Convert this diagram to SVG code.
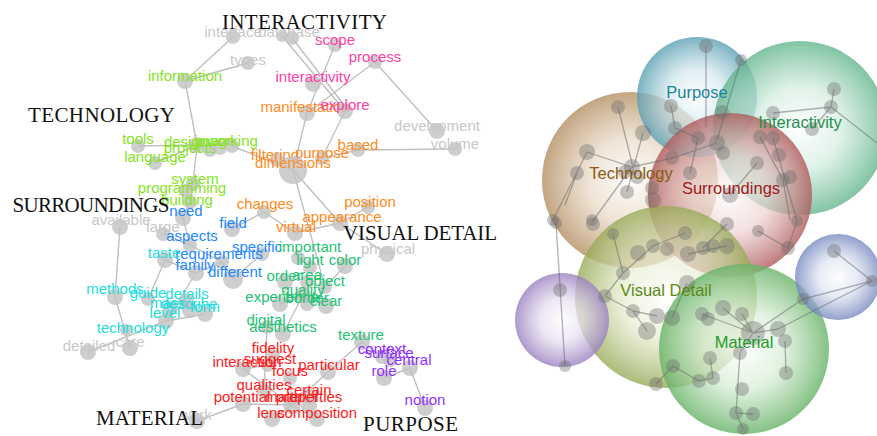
<svg xmlns="http://www.w3.org/2000/svg" width="877" height="436" viewBox="0 0 877 436">
<defs>
<style>
.edge{stroke:#c0c0c0;stroke-width:1.4;fill:none}
.nd{fill:#c2c2c2;fill-opacity:.8}
.w{font-family:"Liberation Sans",Arial,sans-serif;font-size:15px;text-anchor:middle}
.cat{font-family:"Liberation Serif","Times New Roman",serif;font-size:21px;fill:#111;text-anchor:middle}
.gray{fill:#c8c8c8}
.lime{fill:#84e41c}
.pink{fill:#ff40a8}
.orange{fill:#ff8c1a}
.blue{fill:#2288ff}
.cyan{fill:#22dddd}
.sea{fill:#22c474}
.red{fill:#ff1a1a}
.violet{fill:#9030ff}
.ilink{stroke:#666;stroke-opacity:.5;stroke-width:1.3;fill:none}
.inode{fill:#6a6a6a;fill-opacity:.38}
.bl{font-family:"Liberation Sans",Arial,sans-serif;font-size:16.5px;text-anchor:middle}
</style>
<radialGradient id="gTech"><stop offset="0" stop-color="#fff" stop-opacity=".85"/><stop offset=".45" stop-color="#eadcc8" stop-opacity=".7"/><stop offset="1" stop-color="#b48e62" stop-opacity=".8"/></radialGradient>
<radialGradient id="gPurp"><stop offset="0" stop-color="#fff" stop-opacity=".85"/><stop offset=".45" stop-color="#d4e9ee" stop-opacity=".7"/><stop offset="1" stop-color="#5a9fb2" stop-opacity=".8"/></radialGradient>
<radialGradient id="gInt"><stop offset="0" stop-color="#fff" stop-opacity=".85"/><stop offset=".45" stop-color="#d6eee2" stop-opacity=".7"/><stop offset="1" stop-color="#62b58c" stop-opacity=".8"/></radialGradient>
<radialGradient id="gSur"><stop offset="0" stop-color="#fff" stop-opacity=".8"/><stop offset=".45" stop-color="#eed2d2" stop-opacity=".65"/><stop offset="1" stop-color="#ad5a5a" stop-opacity=".8"/></radialGradient>
<radialGradient id="gVis"><stop offset="0" stop-color="#fff" stop-opacity=".85"/><stop offset=".45" stop-color="#e8eed2" stop-opacity=".7"/><stop offset="1" stop-color="#98aa58" stop-opacity=".8"/></radialGradient>
<radialGradient id="gMat"><stop offset="0" stop-color="#fff" stop-opacity=".85"/><stop offset=".45" stop-color="#d8eed6" stop-opacity=".7"/><stop offset="1" stop-color="#66b266" stop-opacity=".8"/></radialGradient>
<radialGradient id="gLil"><stop offset="0" stop-color="#fff" stop-opacity=".85"/><stop offset=".45" stop-color="#e6ddf0" stop-opacity=".7"/><stop offset="1" stop-color="#9880c0" stop-opacity=".8"/></radialGradient>
<radialGradient id="gBlu"><stop offset="0" stop-color="#fff" stop-opacity=".85"/><stop offset=".45" stop-color="#dde3f0" stop-opacity=".7"/><stop offset="1" stop-color="#7688c0" stop-opacity=".8"/></radialGradient>
</defs>
<rect width="877" height="436" fill="#fff"/>

<!-- word network: links -->
<g id="connectors">
<path class="edge" d="M233,37L185,81L248,63M185,81L197,145M282,36L345,111M292,38L348,110M335,45L307,113M375,62L307,113M375,62L437,131M307,113L293,170M345,111L322,158M358,150L455,149M322,158L358,150M232,146L293,170M138,146L197,145M155,163L197,145M197,145L193,184L186,191L190,202L183,218L190,245L163,234M190,245L222,262L233,279M222,262L196,273L165,260M232,229L264,212L295,233L340,223L368,207M340,223L293,170M340,223L387,254M293,170L325,287M120,227L115,297L130,348M165,260L148,299M196,273L166,321M88,352L166,321L187,300M166,321L205,314M262,254L233,279M298,258L310,267M345,266L325,287M303,295L280,304M303,295L326,306M303,295L283,334M267,327L264,391M362,342L328,372L292,405M362,342L382,357M384,378L410,368L425,408M243,369L268,365M243,369L292,405M243,404L292,405M243,404L197,421M272,419L292,405M317,419L292,405M290,378L292,405M309,396L292,405"/>
</g>

<!-- word network: nodes with labels -->
<g id="n-interface"><circle class="nd" cx="233" cy="37" r="7"/><text class="w gray" x="233" y="37">interface</text></g>
<g id="n-database"><circle class="nd" cx="282" cy="36" r="6"/><circle class="nd" cx="292" cy="38" r="7"/><text class="w gray" x="289" y="37">database</text></g>
<g id="n-types"><circle class="nd" cx="248" cy="63" r="7"/><text class="w gray" x="248" y="65">types</text></g>
<g id="n-scope"><circle class="nd" cx="335" cy="45" r="7"/><text class="w pink" x="335" y="45">scope</text></g>
<g id="n-process"><circle class="nd" cx="375" cy="62" r="7"/><text class="w pink" x="375" y="62">process</text></g>
<g id="n-information"><circle class="nd" cx="185" cy="81" r="8"/><text class="w lime" x="185" y="81">information</text></g>
<g id="n-interactivity"><circle class="nd" cx="313" cy="84" r="8"/><text class="w pink" x="313" y="82">interactivity</text></g>
<g id="n-manifestation"><circle class="nd" cx="307" cy="113" r="8"/><text class="w orange" x="305" y="112">manifestation</text></g>
<g id="n-explore"><circle class="nd" cx="345" cy="111" r="8"/><text class="w pink" x="345" y="110">explore</text></g>
<g id="n-development"><circle class="nd" cx="437" cy="131" r="8"/><text class="w gray" x="437" y="131">development</text></g>
<g id="n-volume"><circle class="nd" cx="455" cy="149" r="7"/><text class="w gray" x="455" y="149">volume</text></g>
<g id="n-based"><circle class="nd" cx="358" cy="150" r="7"/><text class="w orange" x="358" y="150">based</text></g>
<g id="n-tools"><circle class="nd" cx="138" cy="146" r="7"/><text class="w lime" x="138" y="144">tools</text></g>
<g id="n-language"><circle class="nd" cx="155" cy="163" r="7"/><text class="w lime" x="155" y="162">language</text></g>
<g id="n-design"><circle class="nd" cx="197" cy="145" r="8"/><text class="w lime" x="186" y="147">design</text></g>
<g id="n-projects"><circle class="nd" cx="210" cy="150" r="7"/><text class="w lime" x="190" y="153">projects</text></g>
<g id="n-image"><circle class="nd" cx="220" cy="148" r="7"/><text class="w lime" x="215" y="146">image</text></g>
<g id="n-working"><circle class="nd" cx="232" cy="146" r="7"/><text class="w lime" x="232" y="146">working</text></g>
<g id="n-filtering"><circle class="nd" cx="277" cy="160" r="7"/><text class="w orange" x="275" y="160">filtering</text></g>
<g id="n-purpose"><circle class="nd" cx="322" cy="158" r="7"/><text class="w orange" x="322" y="158">purpose</text></g>
<g id="n-dimensions"><circle class="nd" cx="293" cy="170" r="14"/><text class="w orange" x="293" y="168">dimensions</text></g>
<g id="n-system"><circle class="nd" cx="193" cy="184" r="7"/><text class="w lime" x="195" y="184">system</text></g>
<g id="n-programming"><circle class="nd" cx="186" cy="191" r="7"/><text class="w lime" x="182" y="193">programming</text></g>
<g id="n-building"><circle class="nd" cx="190" cy="202" r="7"/><text class="w lime" x="187" y="205">building</text></g>
<g id="n-need"><circle class="nd" cx="183" cy="218" r="8"/><text class="w blue" x="186" y="216">need</text></g>
<g id="n-changes"><circle class="nd" cx="264" cy="212" r="7"/><text class="w orange" x="265" y="209">changes</text></g>
<g id="n-position"><circle class="nd" cx="368" cy="207" r="7"/><text class="w orange" x="370" y="207">position</text></g>
<g id="n-appearance"><circle class="nd" cx="340" cy="223" r="8"/><text class="w orange" x="342" y="222">appearance</text></g>
<g id="n-virtual"><circle class="nd" cx="295" cy="233" r="8"/><text class="w orange" x="296" y="232">virtual</text></g>
<g id="n-physical"><circle class="nd" cx="387" cy="254" r="8"/><text class="w gray" x="388" y="254">physical</text></g>
<g id="n-available"><circle class="nd" cx="120" cy="227" r="8"/><text class="w gray" x="121" y="225">available</text></g>
<g id="n-large"><circle class="nd" cx="163" cy="234" r="7"/><text class="w gray" x="163" y="232">large</text></g>
<g id="n-field"><circle class="nd" cx="232" cy="229" r="8"/><text class="w blue" x="233" y="228">field</text></g>
<g id="n-aspects"><circle class="nd" cx="190" cy="245" r="7"/><text class="w blue" x="192" y="241">aspects</text></g>
<g id="n-specific"><circle class="nd" cx="262" cy="254" r="7"/><text class="w blue" x="257" y="252">specific</text></g>
<g id="n-requirements"><circle class="nd" cx="222" cy="262" r="7"/><text class="w blue" x="219" y="259">requirements</text></g>
<g id="n-taste"><circle class="nd" cx="165" cy="260" r="8"/><text class="w cyan" x="164" y="258">taste</text></g>
<g id="n-family"><circle class="nd" cx="196" cy="273" r="8"/><text class="w blue" x="195" y="270">family</text></g>
<g id="n-different"><circle class="nd" cx="233" cy="279" r="10"/><text class="w blue" x="235" y="277">different</text></g>
<g id="n-important"><circle class="nd" cx="298" cy="258" r="7"/><text class="w sea" x="310" y="252">important</text></g>
<g id="n-light"><circle class="nd" cx="310" cy="267" r="7"/><text class="w sea" x="310" y="265">light</text></g>
<g id="n-color"><circle class="nd" cx="345" cy="266" r="8"/><text class="w sea" x="345" y="265">color</text></g>
<g id="n-order"><circle class="nd" cx="285" cy="282" r="8"/><text class="w sea" x="284" y="281">order</text></g>
<g id="n-area"><circle class="nd" cx="307" cy="282" r="7"/><text class="w sea" x="307" y="280">area</text></g>
<g id="n-object"><circle class="nd" cx="325" cy="287" r="7"/><text class="w sea" x="325" y="286">object</text></g>
<g id="n-quality"><circle class="nd" cx="303" cy="295" r="8"/><text class="w sea" x="303" y="295">quality</text></g>
<g id="n-experience"><circle class="nd" cx="280" cy="304" r="8"/><text class="w sea" x="282" y="302">experience</text></g>
<g id="n-border"><circle class="nd" cx="307" cy="304" r="7"/><text class="w sea" x="307" y="303">border</text></g>
<g id="n-clear"><circle class="nd" cx="326" cy="306" r="8"/><text class="w sea" x="326" y="306">clear</text></g>
<g id="n-digital"><circle class="nd" cx="267" cy="327" r="7"/><text class="w sea" x="266" y="325">digital</text></g>
<g id="n-aesthetics"><circle class="nd" cx="283" cy="334" r="8"/><text class="w sea" x="283" y="332">aesthetics</text></g>
<g id="n-texture"><circle class="nd" cx="362" cy="342" r="8"/><text class="w sea" x="361" y="340">texture</text></g>
<g id="n-context"><circle class="nd" cx="382" cy="357" r="7"/><text class="w violet" x="382" y="354">context</text></g>
<g id="n-surface"><circle class="nd" cx="390" cy="360" r="7"/><text class="w violet" x="389" y="358">surface</text></g>
<g id="n-central"><circle class="nd" cx="410" cy="368" r="8"/><text class="w violet" x="409" y="365">central</text></g>
<g id="n-role"><circle class="nd" cx="384" cy="378" r="8"/><text class="w violet" x="384" y="376">role</text></g>
<g id="n-notion"><circle class="nd" cx="425" cy="408" r="8"/><text class="w violet" x="425" y="405">notion</text></g>
<g id="n-fidelity"><circle class="nd" cx="273" cy="354" r="7"/><text class="w red" x="273" y="353">fidelity</text></g>
<g id="n-suggest"><circle class="nd" cx="268" cy="365" r="7"/><text class="w red" x="270" y="364">suggest</text></g>
<g id="n-interaction"><circle class="nd" cx="243" cy="369" r="8"/><text class="w red" x="247" y="367">interaction</text></g>
<g id="n-particular"><circle class="nd" cx="328" cy="372" r="8"/><text class="w red" x="329" y="370">particular</text></g>
<g id="n-focus"><circle class="nd" cx="290" cy="378" r="7"/><text class="w red" x="290" y="376">focus</text></g>
<g id="n-qualities"><circle class="nd" cx="264" cy="391" r="7"/><text class="w red" x="264" y="390">qualities</text></g>
<g id="n-certain"><circle class="nd" cx="309" cy="396" r="8"/><text class="w red" x="309" y="395">certain</text></g>
<g id="n-potential"><circle class="nd" cx="243" cy="404" r="8"/><text class="w red" x="242" y="402">potential</text></g>
<g id="n-material"><circle class="nd" cx="292" cy="405" r="9"/><text class="w red" x="292" y="402">material</text></g>
<g id="n-properties"><circle class="nd" cx="309" cy="406" r="8"/><text class="w red" x="309" y="402">properties</text></g>
<g id="n-lens"><circle class="nd" cx="272" cy="419" r="8"/><text class="w red" x="271" y="418">lens</text></g>
<g id="n-composition"><circle class="nd" cx="317" cy="419" r="8"/><text class="w red" x="317" y="418">composition</text></g>
<g id="n-methods"><circle class="nd" cx="115" cy="297" r="8"/><text class="w cyan" x="115" y="294">methods</text></g>
<g id="n-guide"><circle class="nd" cx="148" cy="299" r="7"/><text class="w cyan" x="148" y="298">guide</text></g>
<g id="n-details"><circle class="nd" cx="187" cy="300" r="7"/><text class="w cyan" x="187" y="299">details</text></g>
<g id="n-mass"><circle class="nd" cx="170" cy="309" r="7"/><text class="w cyan" x="168" y="308">mass</text></g>
<g id="n-describe"><circle class="nd" cx="190" cy="310" r="8"/><text class="w cyan" x="189" y="309">describe</text></g>
<g id="n-form"><circle class="nd" cx="205" cy="314" r="8"/><text class="w cyan" x="205" y="312">form</text></g>
<g id="n-level"><circle class="nd" cx="166" cy="321" r="8"/><text class="w cyan" x="165" y="318">level</text></g>
<g id="n-technology"><circle class="nd" cx="126" cy="330" r="6"/><text class="w cyan" x="133" y="333">technology</text></g>
<g id="n-care"><circle class="nd" cx="130" cy="348" r="8"/><text class="w gray" x="130" y="347">care</text></g>
<g id="n-detailed"><circle class="nd" cx="88" cy="352" r="8"/><text class="w gray" x="89" y="351">detailed</text></g>
<g id="n-work"><circle class="nd" cx="197" cy="421" r="8"/><text class="w gray" x="196" y="420">work</text></g>

<!-- theme headings -->
<g id="headings">
<text class="cat" x="304.5" y="29" textLength="165">INTERACTIVITY</text>
<text class="cat" x="101.5" y="122" textLength="147">TECHNOLOGY</text>
<text class="cat" x="91" y="212" textLength="157">SURROUNDINGS</text>
<text class="cat" x="420" y="240" textLength="154">VISUAL DETAIL</text>
<text class="cat" x="149.5" y="425" textLength="107">MATERIAL</text>
<text class="cat" x="410.5" y="431" textLength="95">PURPOSE</text>
</g>

<!-- theme bubbles -->
<g id="b-technology"><circle cx="630" cy="180" r="88" fill="url(#gTech)"/></g>
<g id="b-purpose"><circle cx="697" cy="97" r="60" fill="url(#gPurp)"/></g>
<g id="b-interactivity"><circle cx="800" cy="128" r="87" fill="url(#gInt)"/></g>
<g id="b-surroundings"><circle cx="730" cy="195" r="82" fill="url(#gSur)"/></g>
<g id="b-visual-detail"><circle cx="666" cy="297" r="91" fill="url(#gVis)"/></g>
<g id="b-material"><circle cx="744" cy="349" r="85" fill="url(#gMat)"/></g>
<g id="b-lilac"><circle cx="562" cy="320" r="47" fill="url(#gLil)"/></g>
<g id="b-blue"><circle cx="838" cy="277" r="43" fill="url(#gBlu)"/></g>

<!-- links inside the bubbles -->
<g id="bubble-links">
<path class="ilink" d="M706,46L706,127M741,60L717,140M834,89L831,107L877,143M831,107L812,129M831,107L773,113M618,107L633,167M671,106L675,128L698,138M643,133L627,192M587,152L632,167L672,158L717,143M587,152L553,220M577,173L565,205M632,167L592,222M760,137L783,180L790,220M773,138L797,221M757,163L730,195M698,138L690,173M556,223L565,366M613,234L623,273L605,296M623,273L653,246L685,233M688,254L727,246M727,224L703,248M758,231L788,248L797,221M633,311L647,331M657,316L633,311M687,283L672,318M753,333L723,308M753,333L702,314M753,333L742,314M753,333L778,329M753,333L740,353L736,413L753,414M736,413L743,429M753,333L803,299L872,281L834,251M872,281L778,329M785,341L786,373M713,378L699,381L673,366L656,384M710,358L713,378M605,296L633,311"/>
</g>
<g id="bubble-nodes">
<circle class="inode" cx="706" cy="46" r="7"/><circle class="inode" cx="741" cy="60" r="6"/><circle class="inode" cx="834" cy="89" r="7"/><circle class="inode" cx="831" cy="107" r="7"/><circle class="inode" cx="773" cy="113" r="7"/><circle class="inode" cx="812" cy="129" r="7"/><circle class="inode" cx="722" cy="112" r="7"/><circle class="inode" cx="671" cy="106" r="7"/><circle class="inode" cx="675" cy="128" r="7"/><circle class="inode" cx="618" cy="107" r="7"/><circle class="inode" cx="643" cy="133" r="8"/><circle class="inode" cx="587" cy="152" r="8"/><circle class="inode" cx="577" cy="173" r="7"/><circle class="inode" cx="632" cy="167" r="8"/><circle class="inode" cx="625" cy="172" r="7"/><circle class="inode" cx="637" cy="177" r="7"/><circle class="inode" cx="627" cy="192" r="7"/><circle class="inode" cx="652" cy="188" r="7"/><circle class="inode" cx="672" cy="158" r="7"/><circle class="inode" cx="690" cy="173" r="7"/><circle class="inode" cx="698" cy="138" r="7"/><circle class="inode" cx="717" cy="143" r="8"/><circle class="inode" cx="723" cy="153" r="7"/><circle class="inode" cx="760" cy="137" r="7"/><circle class="inode" cx="773" cy="138" r="7"/><circle class="inode" cx="779" cy="155" r="7"/><circle class="inode" cx="757" cy="163" r="7"/><circle class="inode" cx="783" cy="180" r="7"/><circle class="inode" cx="790" cy="177" r="7"/><circle class="inode" cx="730" cy="195" r="8"/><circle class="inode" cx="653" cy="200" r="8"/>
<circle class="inode" cx="556" cy="223" r="6"/><circle class="inode" cx="593" cy="224" r="7"/><circle class="inode" cx="613" cy="234" r="6"/><circle class="inode" cx="638" cy="253" r="8"/><circle class="inode" cx="653" cy="246" r="7"/><circle class="inode" cx="667" cy="249" r="7"/><circle class="inode" cx="685" cy="233" r="7"/><circle class="inode" cx="688" cy="254" r="8"/><circle class="inode" cx="703" cy="248" r="7"/><circle class="inode" cx="713" cy="246" r="7"/><circle class="inode" cx="727" cy="246" r="8"/><circle class="inode" cx="727" cy="224" r="7"/><circle class="inode" cx="758" cy="231" r="6"/><circle class="inode" cx="788" cy="248" r="7"/><circle class="inode" cx="797" cy="221" r="6"/><circle class="inode" cx="623" cy="273" r="7"/><circle class="inode" cx="605" cy="296" r="7"/><circle class="inode" cx="633" cy="311" r="7"/><circle class="inode" cx="647" cy="331" r="9"/><circle class="inode" cx="657" cy="316" r="8"/><circle class="inode" cx="672" cy="318" r="8"/><circle class="inode" cx="687" cy="283" r="8"/><circle class="inode" cx="702" cy="314" r="7"/><circle class="inode" cx="708" cy="319" r="7"/><circle class="inode" cx="723" cy="308" r="8"/><circle class="inode" cx="742" cy="314" r="7"/><circle class="inode" cx="753" cy="333" r="12"/><circle class="inode" cx="778" cy="329" r="8"/><circle class="inode" cx="785" cy="341" r="7"/><circle class="inode" cx="740" cy="353" r="7"/><circle class="inode" cx="710" cy="358" r="7"/><circle class="inode" cx="713" cy="378" r="7"/><circle class="inode" cx="699" cy="381" r="7"/><circle class="inode" cx="673" cy="366" r="7"/><circle class="inode" cx="656" cy="384" r="7"/><circle class="inode" cx="742" cy="389" r="7"/><circle class="inode" cx="736" cy="413" r="7"/><circle class="inode" cx="753" cy="414" r="7"/><circle class="inode" cx="743" cy="429" r="6"/><circle class="inode" cx="786" cy="373" r="7"/><circle class="inode" cx="803" cy="299" r="6"/><circle class="inode" cx="834" cy="251" r="7"/><circle class="inode" cx="872" cy="281" r="6"/><circle class="inode" cx="560" cy="290" r="7"/><circle class="inode" cx="565" cy="366" r="6"/><circle class="inode" cx="553" cy="220" r="6"/><circle class="inode" cx="592" cy="220" r="6"/>
</g>

<!-- bubble titles -->
<g id="bubble-titles">
<text class="bl" x="697" y="98" fill="#23839a">Purpose</text>
<text class="bl" x="800" y="128" fill="#1f8f4f">Interactivity</text>
<text class="bl" x="631" y="179" fill="#8b5a14">Technology</text>
<text class="bl" x="731" y="194" fill="#9b1b1b">Surroundings</text>
<text class="bl" x="666" y="296" fill="#5c8a14">Visual Detail</text>
<text class="bl" x="744" y="348" fill="#1e9a2a">Material</text>
</g>
</svg>
